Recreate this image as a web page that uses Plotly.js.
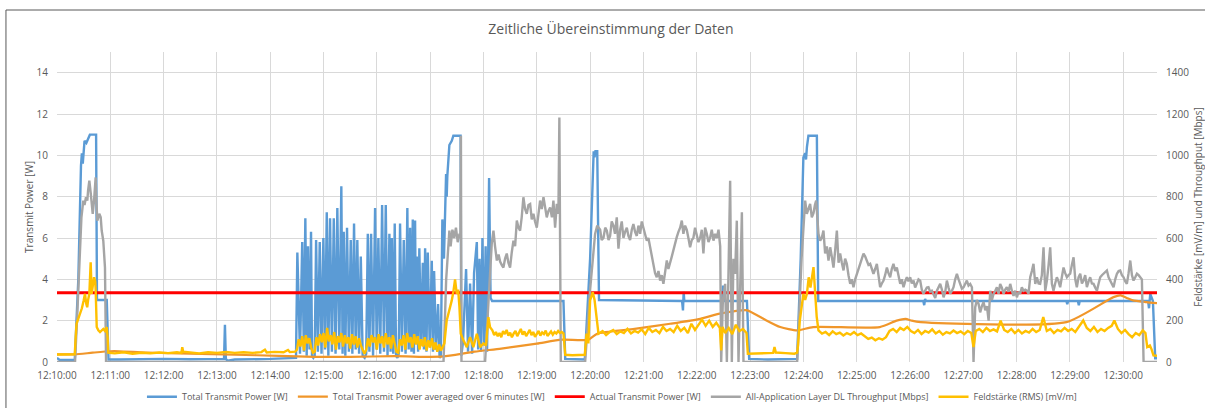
<!DOCTYPE html>
<html><head><meta charset="utf-8">
<script src="https://cdn.plot.ly/plotly-3.0.1.min.js"></script>
<style>html,body{margin:0;padding:0;background:#fff}#chart{width:1205px;height:408px}</style>
</head><body><div id="chart"></div>
<script>
// Time values are seconds after 12:10:00
const chartTitle = 'Zeitliche Übereinstimmung der Daten';
const seriesNames = ['Total Transmit Power [W]','Total Transmit Power averaged over 6 minutes [W]','Actual Transmit Power [W]','All-Application Layer DL Throughput [Mbps]','Feldstärke (RMS) [mV/m]'];
const leftTitle = 'Transmit Power [W]';
const rightTitle = 'Feldstärke [mV/m] und Throughput [Mbps]';

const powerT = [0,3,20,24,27,28,29,30,31,33,35,37,44,45,56,58,70,120,150,188,189,190,192,200,240,262,269,
270.5,273.5,276,277.8,279.5,281,282.5,284.2,285.9,287,288.5,290,291.6,293.6,295.7,297.7,299.8,301.7,303.6,305.4,307.3,309.4,311.5,313.5,315.5,317.7,320,321.4,322.7,324.5,326.4,328.5,330.6,332.4,334.3,336.2,338,340,341.9,344,346.2,348,349.8,351.6,353.5,355.7,358,359.8,361.7,363.8,365.9,368,370,372,374.1,375.4,376.8,378.4,380.1,381.6,383.1,384.6,386.1,388.2,390.3,392.3,394.3,395.8,397.4,398.9,400.4,401.7,403,404,404.9,406.4,407.8,409.7,411.7,413,414.3,415.8,417.3,419.5,421.8,423.1,424.4,426.6,428.9,430.6,432,433.7,435.5,437.9,438.6,439.3,441.6,444.3,446.1,454.2,455,457,460.4,462.6,464.9,467.2,469.4,472.5,474,475.6,477.3,478.8,480.7,482.4,484,486.3,488,489.7,
570,572,594,600,604,605,606,608,610,703.5,704.5,705.3,706,748.5,749.5,750.5,776.5,779,800,833,837,840,842,843,844,845.7,855.2,856.7,975,976,977,978,1136,1137,1138,1149,1150,1151,1228,1229,1230.4,1233.4,1236,1238];
const powerV = [0.2,0.1,0.1,4.0,9.5,10.1,9.6,10.2,10.7,10.6,10.8,11.0,11.0,3.0,3.0,0.12,0.12,0.15,0.13,0.15,1.8,0.15,0.06,0.12,0.15,0.2,0.2,
5.3,0.4,5.8,0.5,6.95,0.3,5.6,0.6,6.3,0.3,0.2,0.3,5.9,0.5,5.8,0.4,6.0,0.6,7.25,0.3,6.95,0.5,6.95,0.4,7.45,0.6,8.5,0.4,6.3,0.3,6.5,0.5,5.9,0.4,6.7,0.6,5.9,0.4,5.1,0.3,0.2,0.4,6.2,0.5,6.2,0.3,7.45,0.6,6.0,0.4,7.6,0.5,7.6,0.3,6.2,0.5,6.0,0.4,6.7,0.3,0.2,0.4,6.7,0.5,5.9,0.4,7.45,0.6,6.5,0.5,6.9,0.4,6.85,1.0,5.1,0.5,5.5,0.8,4.8,0.6,5.5,0.5,5.3,0.7,4.9,0.5,4.4,0.6,2.8,0.2,0.3,6.9,5.0,9.1,8.0,9.0,10.5,10.7,10.95,10.95,0.3,1.0,4.5,0.5,3.8,0.4,4.3,5.8,0.6,5.0,0.5,6.0,0.8,5.6,0.5,8.9,3.1,2.95,
2.95,0.15,0.12,5.0,10.2,9.9,10.2,10.2,3.0,2.95,2.5,3.4,2.95,2.95,3.7,2.95,2.95,0.15,0.12,0.15,5.0,9.9,10.1,9.8,10.4,10.95,10.95,2.95,2.95,2.75,3.05,2.95,2.95,2.8,2.95,2.95,2.74,2.95,2.95,2.6,3.3,2.95,0.18,0.18];

const avgT = [0,20,40,60,70,100,150,200,250,290,330,380,420,435,470,500,540,568,598,608,650,690,724,746,770,777,795,814,833,851,926,945,955,962,972,1136,1189,1197,1204,1211,1226,1238];
const avgV = [0.37,0.37,0.45,0.52,0.52,0.46,0.4,0.35,0.3,0.25,0.25,0.28,0.25,0.27,0.5,0.65,0.89,1.08,1.08,1.37,1.6,1.85,2.09,2.34,2.5,2.5,2.09,1.69,1.53,1.69,1.69,2.0,2.09,2.0,1.93,1.93,3.14,3.22,3.1,2.98,2.9,2.85];

const actualT = [0,1238];
const actualV = [3.35,3.35];

const thrT = [0,20.3,23,25.9,27.5,29.6,31,32.6,34.1,35,36.4,37.9,39,40.2,41.7,43.5,44.5,45.4,46.5,47.6,49.2,50.3,52.1,53,54,55.2,
435,438,441.6,443,445,447,449,451,453,454,454.6,455.2,481.8,489.3,491.2,493,495,497,498.7,500.5,502.4,504.3,506.2,508,509.9,511.8,513.7,515.6,517.5,519.4,521.2,523,524.9,526.8,528.7,530.6,532.5,534.3,536.2,538,540,542,543.7,545.6,547.5,549.3,551.2,553,555,557,558.7,560.6,562.5,564.3,565.4,567,
594.4,600,605.6,608,611.3,613,615,617,618.8,620.7,622.5,624.3,626.2,628,630,631.9,633.8,635.6,637.5,639.4,641.3,643.1,645,646.9,648.7,650.6,652.5,654.4,656.3,658.1,660,661.9,663.8,665.6,667.5,669.4,671.2,673.1,675,676.9,678.8,680.6,682.5,684.4,686.3,688.1,690,691.9,693.7,695.6,697.5,699.4,701.3,703.2,705,706.9,708.8,710.6,712.5,714.4,716.2,718.1,720,721.9,723.8,725.7,727.5,729.4,731.3,733.2,735,736.9,738.8,740.7,742.6,744.5,746.4,747.5,749.4,752,753.9,755.7,757.6,759.5,761.3,763.2,765.1,767,768.9,770.8,772.6,
833,838,842,843.9,845.7,847.6,849.5,851.4,853,854.4,857,858.9,860.7,862.6,864.5,866.4,868.3,870.2,872,873.9,875.8,877.7,879.6,881.4,883.3,885.2,887,888.9,890.8,892.7,894.5,896.4,898.3,900.2,902,903.9,905.8,907.7,909.6,911.5,913.3,915.2,917,918.9,920.8,922.7,924.5,926.4,928.3,930.2,932,934,935.8,937.7,939.5,941.4,943.3,945.2,947,949,950.8,952.7,954.6,956.5,958.3,960.2,962,964,965.8,967.7,969.6,971.5,973.3,975.2,977,979,980.8,982.7,984.6,986.5,988.4,990.3,992.2,994,995.9,997.8,999.7,1001.5,1003.4,1005.3,1007.2,1009,1010.9,1012.8,1014.7,1016.5,1018.4,1020.3,1022.2,1024,1025.9,1027.8,1029.7,1031.5,1033.4,1035.3,1037.2,1039,1040.9,1042.8,1044.7,1046.6,1048.5,1050.3,1052.2,1054.1,1056,1057.8,1059.7,1061.5,1063.4,1065.3,1067.2,1069,1070.9,1072.8,1074.7,1076.5,1078.4,1080.3,1082.2,1084,1085.9,1087.8,1089.7,1091.6,1093.4,1095.3,1097.2,1099,1101,1102.8,1104.7,1106.5,1108.4,1110.3,1112.2,1114.1,1116,1117.8,1119.7,1121.5,1123.4,1125.3,1127.2,1129,1130.9,1132.8,1134.7,1136.6,1138.5,1140.3,1142.2,1144.1,1146,1147.8,1149.7,1151.6,1153.5,1155.3,1157.2,1159.1,1161,1162.8,1164.7,1166.6,1168.5,1170.4,1172.3,1174.1,1176,1177.9,1179.8,1181.6,1183.5,1185.4,1187.3,1189.1,1191,1192.9,1194.8,1196.6,1198.5,1200.4,1202.3,1204.1,1206,1207.9,1209.8,1211.6,1213.5,1215.4,1217.3,1219.1,1221,1222.9,1238];
const thrV = [0,0,250,587,700,781,760,797,781,830,877,820,760,717,781,893,760,684,700,717,700,636,587,540,457,0,
0,400,636,560,640,600,650,580,620,600,1095,0,0,573,636,560,491,520,486,470,457,500,525,480,457,530,587,560,684,650,636,700,797,740,717,760,765,690,717,680,650,720,781,740,797,750,700,730,748,700,781,650,765,717,1183,0,
0,350,620,660,640,590,600,650,636,590,610,680,660,620,700,548,640,680,600,630,650,610,590,640,668,630,610,660,620,680,650,620,587,600,555,500,457,430,410,440,394,420,378,430,491,450,475,510,540,580,604,630,650,684,620,660,640,600,555,590,600,650,620,580,600,640,525,650,620,580,600,640,587,620,600,640,560,0,298,378,0,507,877,0,500,427,684,0,330,724,0,
0,500,781,717,740,765,700,720,760,781,620,587,600,636,525,560,491,555,510,457,540,636,480,525,480,443,500,475,420,378,400,362,400,427,450,475,500,525,510,491,470,475,450,427,450,475,420,362,380,394,420,457,430,410,450,475,440,457,420,378,400,362,390,410,390,410,380,394,360,378,400,394,350,330,345,360,362,340,345,330,310,345,360,378,350,313,340,394,360,330,345,362,400,427,400,378,355,362,380,394,370,378,362,0,265,300,281,240,270,290,250,270,200,345,300,330,345,362,330,378,360,330,350,362,340,378,345,320,345,313,340,330,362,345,350,345,330,410,440,475,378,410,380,378,420,555,345,394,470,555,378,345,380,410,390,362,410,457,430,410,420,427,470,507,400,362,410,427,380,394,420,362,390,410,380,378,360,345,380,410,420,427,435,443,410,394,380,362,400,427,440,443,420,410,390,378,430,491,420,394,410,427,420,410,400,0,0];

const fieldT = [0,20,21,22,24,26,28,30,31.5,33,34,35,36.4,37.9,39,40,41.7,43,43.5,44.7,46.5,48.4,50,52.1,54,55.9,57,57.7,65,75,85,95,105,115,125,135,140,141,142,150,160,170,180,190,200,210,220,230,234,236,245,255,260,262,268,
270,272,274,276,278,280,282,284,286,288,290,292,294,296,298,300,302,304,306,308,310,312,314,316,318,320,322,324,326,328,330,332,334,336,338,340,342,344,346,348,350,352,354,356,358,360,362,364,366,368,370,372,374,376,378,380,382,384,386,388,390,392,394,396,398,400,402,404,406,408,410,412,414,416,418,420,422,424,426,428,430,432,434,436,
438.6,441.6,444.3,446.1,448,449.9,451.5,452.9,454.4,457.4,461.2,464.9,468.6,472.5,476.2,479.9,482.9,485.5,487.4,
490,492,494,496,498,500,502,504,506,508,510,512,514,516,518,520,522,524,526,528,530,532,534,536,538,540,542,544,546,548,550,552,554,556,558,560,562,564,566,568,570,572,580,590,594,596,598,600,603,605,607.5,609.4,
614,618,622,626,630,634,638,642,646,650,654,658,662,666,670,674,678,682,686,690,694,698,702,706,710,714,718,722,726,730,734,738,742,746,747.5,749,752,756,760,764,768,772,776,777.5,
790,800,806,807.5,809,820,830,833,834,836,838,840,842,844,846,848,851.4,853,855,857,
861,865,869,873,877,881,885,889,893,897,901,905,909,913,917,921,925,929,933,937,941,945,949,953,957,961,965,969,973,977,981,985,989,993,997,1001,1005,1009,1013,1017,1021,1025,1029,1031.5,1034,1038,1042,1046,1050,1054,1058,1062,1066,1070,1074,1078,1082,1086,1090,1094,1098,1102,1106,1110,1114,1118,1122,1126,1130,1134,1138,1142,1146,1150,1155,1159,1163,1167,1171,1175,1179,1183,1187,1190,1194,1198,1202,1206,1210,1214,1218,1222,1225,1227,1230,1232,1234,1238];
const fieldV = [36,37,120,185,210,233,260,298,330,280,265,300,330,483,330,360,410,390,350,169,153,145,150,160,150,169,120,45,42,47,40,45,42,46,43,47,44,72,50,46,42,47,44,48,44,47,44,48,60,46,49,47,58,48,50,
60,110,75,125,55,130,90,115,70,45,50,120,80,135,95,140,70,165,100,130,85,145,60,125,95,140,75,130,90,120,65,135,85,125,70,115,80,55,40,60,115,75,130,95,120,60,135,90,125,70,140,85,120,65,130,90,50,45,110,80,130,60,140,95,120,70,135,85,125,60,110,75,120,55,105,70,115,60,95,50,85,55,75,90,
201,249,298,340,400,330,350,266,137,105,72,120,72,137,72,90,80,217,168,
153,130,145,125,140,120,150,135,155,128,142,120,138,150,125,145,160,132,148,125,140,155,130,145,122,138,150,128,143,135,152,126,140,148,132,145,138,150,140,145,138,35,33,32,35,137,90,298,338,300,217,137,
150,130,145,155,135,148,140,160,138,150,142,158,135,165,145,155,140,170,150,160,145,175,150,165,140,185,155,180,205,175,200,170,190,165,56,170,140,165,135,180,150,160,140,40,
42,45,44,72,46,43,40,45,80,200,270,330,300,330,410,360,459,330,220,153,
137,145,130,148,135,142,128,140,132,145,130,138,125,112,118,105,115,108,120,150,160,145,165,155,170,150,140,155,135,150,142,158,138,150,132,145,138,152,140,148,135,150,140,72,150,160,145,165,150,158,148,200,155,145,160,140,155,138,150,142,160,145,155,217,150,160,140,155,148,165,150,160,145,170,201,165,150,170,145,160,150,165,175,201,160,140,155,135,120,140,130,153,140,72,80,60,32,30];

const BASE = Date.UTC(2000,0,1,12,10,0);
function toX(arr){ return arr.map(s => new Date(BASE + Math.round(s*1000)).toISOString().replace('T',' ').replace('Z','')); }

const txtColor = '#595959';
const gridColor = '#d9d9d9';
const fontFam = 'Open Sans, sans-serif';

const traces = [
  {x: toX(powerT), y: powerV, name: seriesNames[0], type:'scatter', mode:'lines', line:{color:'#5B9BD5', width:2.4}, yaxis:'y'},
  {x: toX(avgT), y: avgV, name: seriesNames[1], type:'scatter', mode:'lines', line:{color:'#F0962A', width:2.2, shape:'spline', smoothing:0.6}, yaxis:'y'},
  {x: toX(actualT), y: actualV, name: seriesNames[2], type:'scatter', mode:'lines', line:{color:'#FF0000', width:2.8}, yaxis:'y'},
  {x: toX(thrT), y: thrV, name: seriesNames[3], type:'scatter', mode:'lines', line:{color:'#A5A5A5', width:2.4}, yaxis:'y2'},
  {x: toX(fieldT), y: fieldV, name: seriesNames[4], type:'scatter', mode:'lines', line:{color:'#FFC000', width:2.4}, yaxis:'y2'}
];

const layout = {
  width:1205, height:408,
  margin:{l:57, r:48, t:52, b:46, autoexpand:false},
  paper_bgcolor:'#ffffff', plot_bgcolor:'#ffffff',
  font:{family:fontFam, color:txtColor, size:10},
  title:{text:chartTitle, font:{family:fontFam, size:14, color:txtColor}, xref:'container', x:0.507, xanchor:'center', yref:'container', y:1-29/408, yanchor:'middle'},
  showlegend:true,
  legend:{orientation:'h', x:0.5045, xanchor:'center', y:-0.112, yanchor:'middle', font:{family:fontFam, size:9, color:txtColor}, itemwidth:30, bgcolor:'rgba(0,0,0,0)', traceorder:'normal'},
  xaxis:{type:'date', range:[toX([0])[0], toX([1238])[0]], tick0:toX([0])[0], dtick:60000, tickformat:'%H:%M:%S',
    showgrid:true, gridcolor:gridColor, gridwidth:1, zeroline:false, showline:false, ticks:'', ticklabelstandoff:6,
    tickfont:{size:10, color:txtColor}, fixedrange:true},
  yaxis:{range:[0,15], tick0:0, dtick:2, showgrid:true, gridcolor:gridColor, gridwidth:1, zeroline:false, showline:false, ticks:'',
    ticklabelstandoff:8, tickfont:{size:10, color:txtColor},
    title:{text:leftTitle, font:{size:10, color:txtColor}, standoff:1}},
  yaxis2:{range:[0,1500], tick0:0, dtick:200, overlaying:'y', side:'right', showgrid:false, zeroline:false, showline:false, ticks:'',
    ticklabelstandoff:8, tickfont:{size:10, color:txtColor},
    title:{text:rightTitle, font:{size:10, color:txtColor}, standoff:6}},
  shapes:[
    {type:'line', xref:'paper', yref:'paper', x0:-0.0464, x1:1.05, y0:(362-10)/310, y1:(362-10)/310, line:{color:'#595959', width:1}},
    {type:'line', xref:'paper', yref:'paper', x0:-0.0464, x1:-0.0464, y0:(362-10)/310, y1:-0.2, line:{color:'#595959', width:1}}
  ]
};

Plotly.newPlot('chart', traces, layout, {displayModeBar:false, staticPlot:true});
</script>
</body></html>
